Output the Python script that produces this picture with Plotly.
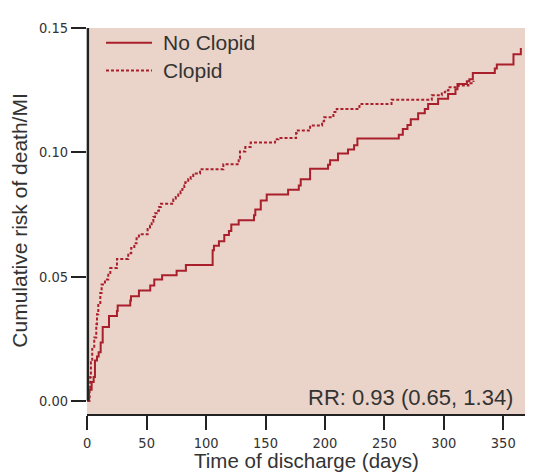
import plotly.graph_objects as go

# ---- data ----
no_clopid_days = [0, 1.5, 3.7, 5.4, 6.5, 8.2, 9.6, 11.3, 13.0, 18.3, 25.0, 25.6, 36.2, 36.8, 43.5,
                  53.0, 56.4, 63.0, 75.2, 83.0, 105.5, 106.6, 110.8, 115.3, 119.2, 121.2, 127.4,
                  140.3, 141.4, 146.0, 151.0, 169.0, 178.0, 179.6, 187.5, 202.6, 204.3, 211.0,
                  219.4, 224.5, 227.3, 262.1, 265.5, 269.4, 272.2, 278.4, 284.0, 286.8, 295.2,
                  303.6, 309.8, 311.5, 319.4, 321.5, 324.4, 342.9, 344.6, 358.6, 364.8]
no_clopid_risk = [0.0, 0.0045, 0.0076, 0.0096, 0.0162, 0.0178, 0.0195, 0.0235, 0.0297, 0.0341,
                  0.0361, 0.0384, 0.0404, 0.0421, 0.0444, 0.0464, 0.0488, 0.0505, 0.0523, 0.0546,
                  0.0606, 0.0624, 0.0642, 0.0667, 0.0683, 0.0709, 0.0727, 0.0747, 0.0770, 0.0806,
                  0.0830, 0.0849, 0.0866, 0.0891, 0.0934, 0.0950, 0.0968, 0.0995, 0.1011, 0.1028,
                  0.1055, 0.1071, 0.1094, 0.1110, 0.1133, 0.1157, 0.1174, 0.1194, 0.1215, 0.1234,
                  0.1254, 0.1275, 0.1286, 0.1294, 0.1319, 0.1337, 0.1353, 0.1394, 0.1420]

clopid_days = [0, 2.0, 2.5, 3.1, 4.2, 5.9, 7.6, 8.2, 9.3, 11.0, 12.1, 14.9, 17.7, 19.4, 25.0,
               34.5, 37.0, 39.6, 41.5, 43.5, 50.8, 52.8, 54.2, 55.6, 57.0, 58.4, 60.4, 62.0,
               72.4, 74.5, 76.6, 78.5, 80.0, 81.7, 82.5, 85.0, 87.0, 89.2, 94.9, 114.5, 127.4,
               128.5, 133.0, 137.5, 158.0, 160.8, 175.7, 176.3, 187.5, 197.6, 199.3, 207.1,
               209.9, 229.0, 256.0, 289.9, 298.3, 301.1, 303.9, 312.3, 320.7, 325.0]
clopid_risk = [0.0, 0.0043, 0.0096, 0.0155, 0.0209, 0.0255, 0.0308, 0.0348, 0.0394, 0.0434,
               0.0468, 0.0488, 0.0514, 0.0534, 0.0571, 0.0594, 0.0615, 0.0634, 0.0654, 0.0670,
               0.0691, 0.0704, 0.0720, 0.0740, 0.0755, 0.0765, 0.0780, 0.0793, 0.0810, 0.0820,
               0.0830, 0.0842, 0.0852, 0.0866, 0.0879, 0.0892, 0.0905, 0.0915, 0.0932, 0.0952,
               0.0975, 0.1003, 0.1021, 0.1039, 0.1052, 0.1057, 0.1078, 0.1088, 0.1108, 0.1125,
               0.1141, 0.1162, 0.1174, 0.1194, 0.1211, 0.1229, 0.1241, 0.1249, 0.1262, 0.1269,
               0.1278, 0.1288]

x_ticks = [0, 50, 100, 150, 200, 250, 300, 350]
y_ticks = [0.00, 0.05, 0.10, 0.15]
y_tick_labels = ["0.00", "0.05", "0.10", "0.15"]
series_names = ["No Clopid", "Clopid"]
rr_text = "RR: 0.93 (0.65, 1.34)"

LINE = "#A91F2B"
BG = "#EAD3C8"
AX = "#222222"
TXT = "#333333"
NARROW = "Liberation Sans Narrow, DejaVu Sans Condensed, Arial Narrow, sans-serif"
SANS = "Liberation Sans, Arial, Helvetica, sans-serif"
DASHES = ["solid", "3px,2px"]

fig = go.Figure()
fig.add_trace(go.Scatter(x=no_clopid_days, y=no_clopid_risk, mode="lines", name=series_names[0],
                         line=dict(shape="hv", color=LINE, width=2, dash=DASHES[0])))
fig.add_trace(go.Scatter(x=clopid_days, y=clopid_risk, mode="lines", name=series_names[1],
                         line=dict(shape="hv", color=LINE, width=2, dash=DASHES[1])))

# legend drawn in the top-left corner of the plot (paper coordinates)
legend_rows_y = [0.9615, 0.8897]
legend_shapes = []
legend_annos = []
for name, dash, ly in zip(series_names, DASHES, legend_rows_y):
    legend_shapes.append(dict(type="line", xref="paper", yref="paper", x0=0.0434, x1=0.1484,
                              y0=ly, y1=ly, line=dict(color=LINE, width=2, dash=dash)))
    legend_annos.append(dict(text=name, xref="paper", yref="paper", x=0.169, y=ly,
                             xanchor="left", yanchor="middle", showarrow=False,
                             font=dict(family=SANS, size=21, color=TXT)))

# page body has an 8px margin, so the figure is sized to fill the rest of the window
fig.update_layout(
    width=530, height=464,
    margin=dict(l=79, r=13, t=16, b=58),
    paper_bgcolor="white", plot_bgcolor=BG,
    showlegend=False,
    xaxis=dict(range=[-0.2, 368.3], tickvals=x_ticks, showgrid=False, zeroline=False,
               showline=True, linecolor=AX, linewidth=2.2,
               ticks="outside", ticklen=14, tickwidth=2, tickcolor=AX,
               tickfont=dict(family=NARROW, size=14.5, color=TXT)),
    yaxis=dict(range=[-0.0053, 0.15], tickvals=y_ticks, ticktext=y_tick_labels,
               showgrid=False, zeroline=False, showline=False,
               ticks="outside", ticklen=15, tickwidth=2, tickcolor=AX,
               tickfont=dict(family=NARROW, size=14.5, color=TXT)),
    shapes=[dict(type="line", xref="paper", yref="y", x0=0.002, x1=0.002, y0=0, y1=0.15,
                 line=dict(color=AX, width=2.4))] + legend_shapes,
    annotations=[
        dict(text=rr_text, xref="paper", yref="paper", x=0.977, y=0.044,
             xanchor="right", yanchor="middle", showarrow=False,
             font=dict(family=SANS, size=22, color=TXT)),
        dict(text="Cumulative risk of death/MI", xref="paper", yref="paper", x=-0.156, y=0.5,
             xanchor="center", yanchor="middle", textangle=-90, showarrow=False,
             font=dict(family=SANS, size=21, color=TXT)),
        dict(text="Time of discharge (days)", xref="paper", yref="paper", x=0.5, y=-0.121,
             xanchor="center", yanchor="middle", showarrow=False,
             font=dict(family=SANS, size=20.5, color=TXT)),
    ] + legend_annos,
)

fig.write_html("out.html")
